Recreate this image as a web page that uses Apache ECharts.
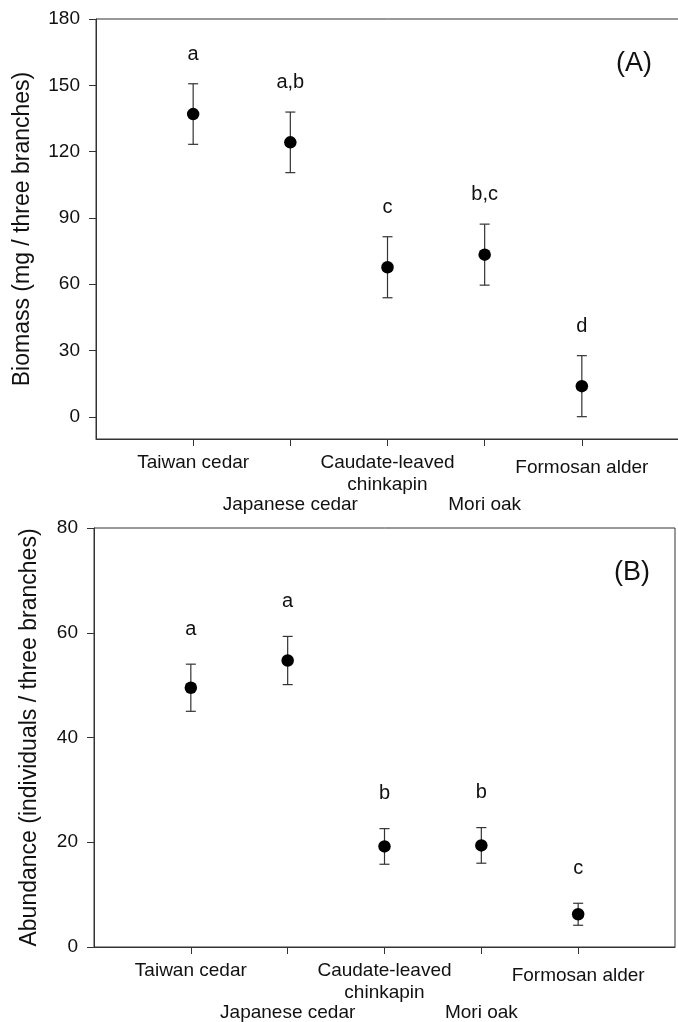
<!DOCTYPE html>
<html>
<head>
<meta charset="utf-8">
<script src="https://cdn.jsdelivr.net/npm/echarts@6/dist/echarts.min.js"></script>
<style>
html,body{margin:0;padding:0;background:#fff;}
#chart{width:678px;height:1022px;}
</style>
</head>
<body>
<div id="chart"></div>
<script>
// ---- data ----
var categories = ['Taiwan cedar', 'Japanese cedar', 'Caudate-leaved\nchinkapin', 'Mori oak', 'Formosan alder'];
var biomassMean = [137.0, 124.2, 67.7, 73.4, 13.9];
var biomassErr = [13.7, 13.7, 13.8, 13.8, 13.8];
var biomassLetters = ['a', 'a,b', 'c', 'b,c', 'd'];
var abundanceMean = [49.5, 54.7, 19.2, 19.4, 6.25];
var abundanceErr = [4.5, 4.6, 3.4, 3.4, 2.1];
var abundanceLetters = ['a', 'a', 'b', 'b', 'c'];
var biomassTicks = [0, 30, 60, 90, 120, 150, 180];
var abundanceTicks = [0, 20, 40, 60, 80];

var FONT = "'Liberation Sans', Arial, sans-serif";
var LINE = '#333';
// axis slots: one empty slot at each end so the categories sit at 1..5 of 0..6
var axisSlots = [''].concat(categories, ['']);
function isCat(idx) { return idx >= 1 && idx <= categories.length; }
function isUpperRow(idx) { return idx === 1 || idx === 3 || idx === 5; }
function isLowerRow(idx) { return idx === 2 || idx === 4; }

function labelStyle() {
  return {
    margin: 13, fontSize: 19, lineHeight: 22, color: '#111', fontFamily: FONT, hideOverlap: false
  };
}

function xAxisMain(gridIndex) {
  var lab = labelStyle();
  lab.interval = function (idx) { return isUpperRow(idx); };
  lab.formatter = function (name) {
    if (name === categories[4]) return '{mid|' + name + '}';
    return name;
  };
  lab.rich = { mid: { padding: [10, 0, 0, 0], fontSize: 19, lineHeight: 22, color: '#111', fontFamily: FONT } };
  return {
    type: 'category', gridIndex: gridIndex, data: axisSlots, boundaryGap: false, position: 'bottom',
    axisLine: { show: true, onZero: false, lineStyle: { color: LINE, width: 1 } },
    axisTick: { show: true, interval: function (idx) { return isCat(idx); }, length: 7, lineStyle: { color: LINE } },
    splitLine: { show: false },
    axisLabel: lab
  };
}

function xAxisLower(gridIndex) {
  var lab = labelStyle();
  lab.interval = function (idx) { return isLowerRow(idx); };
  return {
    type: 'category', gridIndex: gridIndex, data: axisSlots, boundaryGap: false, position: 'bottom', offset: 42,
    axisLine: { show: false },
    axisTick: { show: false },
    splitLine: { show: false },
    axisLabel: lab
  };
}

function yAxisCfg(gridIndex, min, max, ticks, name, gap) {
  return {
    type: 'value', gridIndex: gridIndex, min: min, max: max,
    name: name, nameLocation: 'middle', nameGap: gap,
    nameTextStyle: { fontSize: 23, color: '#111', fontFamily: FONT },
    axisLine: { show: true, onZero: false, lineStyle: { color: LINE, width: 1 } },
    axisTick: { show: true, customValues: ticks, length: 7, lineStyle: { color: LINE } },
    splitLine: { show: false },
    axisLabel: { customValues: ticks, margin: 16, fontSize: 19, color: '#111', fontFamily: FONT }
  };
}

function errSeries(xi, yi, means, errs, letters, offset) {
  var data = means.map(function (m, i) { return [i + 1, m, errs[i], i]; });
  return {
    type: 'custom', xAxisIndex: xi, yAxisIndex: yi, clip: false, z: 2,
    data: data,
    renderItem: function (params, api) {
      var x = api.value(0), m = api.value(1), e = api.value(2), k = api.value(3);
      var top = api.coord([x, m + e]);
      var bot = api.coord([x, m - e]);
      var cw = 5;
      var st = { stroke: LINE, lineWidth: 1.2 };
      return {
        type: 'group',
        children: [
          { type: 'line', shape: { x1: top[0], y1: top[1], x2: bot[0], y2: bot[1] }, style: st },
          { type: 'line', shape: { x1: top[0] - cw, y1: top[1], x2: top[0] + cw, y2: top[1] }, style: st },
          { type: 'line', shape: { x1: bot[0] - cw, y1: bot[1], x2: bot[0] + cw, y2: bot[1] }, style: st },
          { type: 'text', x: top[0], y: top[1] - offset,
            style: { text: letters[k], textAlign: 'center', textVerticalAlign: 'middle',
                     fontSize: 20, fontFamily: FONT, fill: '#111' } }
        ]
      };
    }
  };
}

function meanSeries(xi, yi, means) {
  return {
    type: 'scatter', xAxisIndex: xi, yAxisIndex: yi, z: 3,
    symbol: 'circle', symbolSize: 12.5,
    itemStyle: { color: '#000', opacity: 1 },
    data: means.map(function (m, i) { return [i + 1, m]; })
  };
}

var chart = echarts.init(document.getElementById('chart'), null, { renderer: 'canvas' });
chart.setOption({
  animation: false,
  backgroundColor: '#fff',
  grid: [
    { left: 96, top: 19, width: 583, height: 420, outerBoundsMode: 'none', containLabel: false,
      show: true, borderColor: LINE, borderWidth: 1, backgroundColor: 'transparent' },
    { left: 94, top: 528, width: 581, height: 419, outerBoundsMode: 'none', containLabel: false,
      show: true, borderColor: LINE, borderWidth: 1, backgroundColor: 'transparent' }
  ],
  xAxis: [xAxisMain(0), xAxisLower(0), xAxisMain(1), xAxisLower(1)],
  yAxis: [
    yAxisCfg(0, -10, 180, biomassTicks, 'Biomass (mg / three branches)', 62),
    yAxisCfg(1, 0, 80, abundanceTicks, 'Abundance (individuals / three branches)', 53)
  ],
  graphic: [
    { type: 'text', left: 616, top: 50, style: { text: '(A)', fontSize: 27, fontFamily: FONT, fill: '#111' } },
    { type: 'text', left: 614, top: 559, style: { text: '(B)', fontSize: 27, fontFamily: FONT, fill: '#111' } }
  ],
  series: [
    errSeries(0, 0, biomassMean, biomassErr, biomassLetters, 29.5),
    meanSeries(0, 0, biomassMean),
    errSeries(2, 1, abundanceMean, abundanceErr, abundanceLetters, 35),
    meanSeries(2, 1, abundanceMean)
  ]
});
</script>
</body>
</html>
